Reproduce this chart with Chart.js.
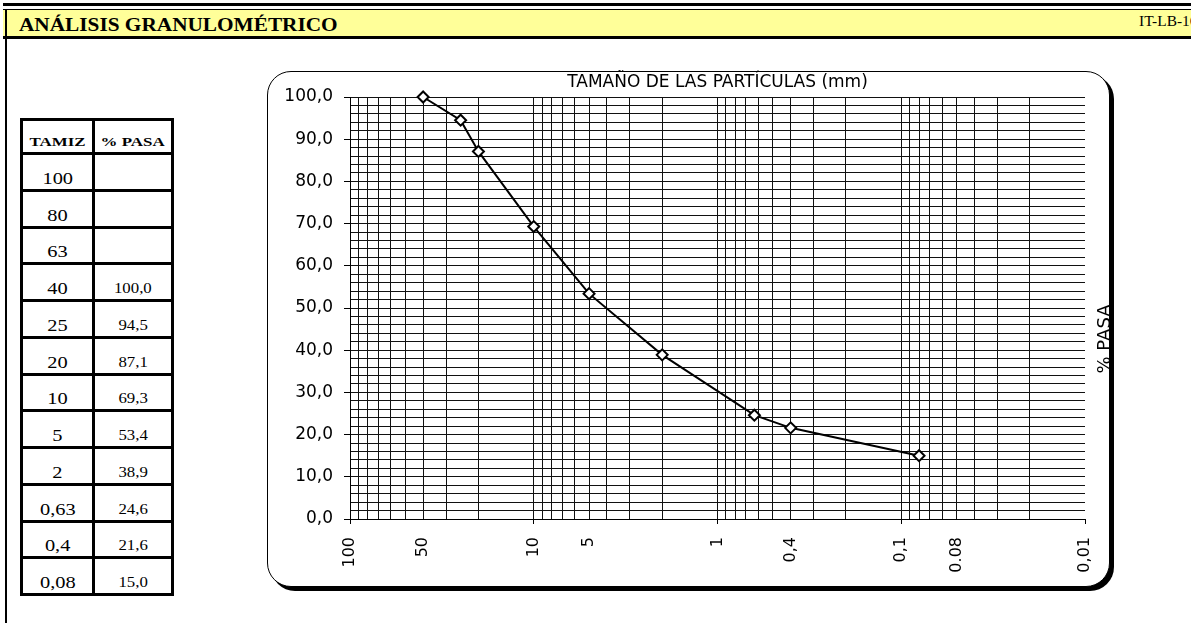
<!DOCTYPE html>
<html>
<head>
<meta charset="utf-8">
<script src="https://cdn.jsdelivr.net/npm/chart.js@4.4.1/dist/chart.umd.min.js"></script>
<style>
  html, body { margin: 0; padding: 0; background: #fff; }
  body { width: 1191px; height: 623px; position: relative; overflow: hidden; font-family: "Liberation Serif", "Times New Roman", serif; color: #000; }
  .abs { position: absolute; }
  .line { position: absolute; background: #000; }
  #band { left: 3px; right: 0; top: 10px; height: 26px; background: #ffff99; }
  #title { left: 19px; top: 15px; font-size: 19px; line-height: 19px; font-weight: bold; transform: scaleX(1.12); transform-origin: left center; white-space: nowrap; }
  #code { left: 1139px; top: 15px; font-size: 14px; line-height: 14px; transform: scaleX(1.1); transform-origin: left center; white-space: nowrap; }
  #tbl { left: 20px; top: 118px; border-collapse: collapse; }
  #tbl td { border: 3px solid #000; text-align: center; vertical-align: bottom; padding: 0 0 3px 0; font-size: 15px; line-height: 15px; }
  #tbl td.t { font-size: 17px; line-height: 17px; padding-bottom: 2px; }
  #tbl tr { height: 36.75px; }
  #tbl tr.head { height: 34px; }
  #tbl tr.head td { font-size: 13px; line-height: 13px; font-weight: bold; padding-bottom: 4px; }
  #tbl td span { display: inline-block; white-space: nowrap; transform: scaleX(1.12); }
  #tbl tr.head td span { transform: scaleX(1.3); }
  #tbl td.t span { transform: scaleX(1.2); }
  #box { left: 267px; top: 71px; width: 843px; height: 516px; box-sizing: border-box; border: 1px solid #000; border-radius: 24px; box-shadow: 4px 4px 0 #000; background: #fff; }
  #wrap { left: 268px; top: 52px; width: 870px; height: 534px; }
</style>
</head>
<body>
<div class="line" style="left:3px; right:0; top:3px; height:3px;"></div>
<div class="line" style="left:3px; right:0; top:9px; height:1.5px;"></div>
<div id="band" class="abs"></div>
<div class="line" style="left:3px; right:0; top:36px; height:3px;"></div>
<div class="line" style="left:5px; width:2.3px; top:9px; bottom:0;"></div>
<div id="title" class="abs">ANÁLISIS GRANULOMÉTRICO</div>
<div id="code" class="abs">IT-LB-16</div>

<table id="tbl" class="abs">
  <colgroup><col style="width:72px"><col style="width:79px"></colgroup>
  <tbody id="rows">
    <tr class="head"><td><span>TAMIZ</span></td><td><span>% PASA</span></td></tr>
  </tbody>
</table>

<div id="box" class="abs"></div>
<div id="wrap" class="abs"><canvas id="granChart"></canvas></div>

<script>
// sieve openings (mm) and percentage passing, as in the table
const tamiz = ['100', '80', '63', '40', '25', '20', '10', '5', '2', '0,63', '0,4', '0,08'];
const sizes = [100, 80, 63, 40, 25, 20, 10, 5, 2, 0.63, 0.4, 0.08];
const pasa = [null, null, null, 100.0, 94.5, 87.1, 69.3, 53.4, 38.9, 24.6, 21.6, 15.0];

// x axis labels as printed on the sheet, and the gridline they sit on
const xTickAt = [100, 40, 10, 5, 1, 0.4, 0.1, 0.05, 0.01];
const xTickText = ['100', '50', '10', '5', '1', '0,4', '0,1', '0.08', '0,01'];

const fmt = v => v.toFixed(1).replace('.', ',');

// table
const tbody = document.getElementById('rows');
tamiz.forEach((t, i) => {
    const tr = document.createElement('tr');
    tr.innerHTML = '<td class="t"><span>' + t + '</span></td><td><span>' +
        (pasa[i] === null ? '' : fmt(pasa[i])) + '</span></td>';
    tbody.appendChild(tr);
});

// log grid: 1..9 per decade
const gridX = [];
for (let e = -2; e <= 1; e++) {
    for (let k = 1; k <= 9; k++) gridX.push(+(k * Math.pow(10, e)).toPrecision(6));
}
gridX.push(100);

const same = (a, b) => Math.abs(a - b) <= Math.abs(b) * 1e-6;
const isDecade = v => same(Math.pow(10, Math.round(Math.log10(v))), v);

const points = [];
sizes.forEach((s, i) => { if (pasa[i] !== null) points.push({x: s, y: pasa[i]}); });

const yTitle = {
    id: 'yTitle',
    afterDraw(chart) {
        const c = chart.ctx, a = chart.chartArea;
        c.save();
        c.translate(a.right + 20, (a.top + a.bottom) / 2 + 31);
        c.rotate(-Math.PI / 2);
        c.font = '18px "DejaVu Sans"';
        c.fillStyle = '#000';
        c.textAlign = 'center';
        c.textBaseline = 'middle';
        c.fillText('% PASA', 0, 0);
        c.restore();
    }
};

Chart.defaults.font.family = '"DejaVu Sans", sans-serif';
Chart.defaults.color = '#000';

const ctx = document.getElementById('granChart').getContext('2d');
new Chart(ctx, {
    type: 'line',
    data: {
        datasets: [{
            data: points,
            borderColor: '#000',
            borderWidth: 2,
            tension: 0,
            fill: false,
            clip: false,
            pointStyle: 'rectRot',
            pointRadius: 5.5,
            pointBackgroundColor: '#fff',
            pointBorderColor: '#000',
            pointBorderWidth: 2
        }]
    },
    options: {
        responsive: true,
        maintainAspectRatio: false,
        animation: false,
        layout: { padding: { left: 0, right: 53, top: 0, bottom: 0 } },
        plugins: {
            legend: { display: false },
            tooltip: { enabled: false },
            title: {
                display: true,
                text: 'TAMAÑO DE LAS PARTÍCULAS (mm)',
                color: '#000',
                fullSize: false,
                font: { size: 17, weight: 'normal' },
                padding: { top: 20, bottom: 4.6 }
            }
        },
        scales: {
            x: {
                type: 'logarithmic',
                reverse: true,
                min: 0.01,
                max: 100,
                afterBuildTicks: s => { s.ticks = gridX.map(v => ({ value: v })); },
                afterFit: s => { s.height = 67; },
                border: { color: '#000', width: 1 },
                grid: {
                    color: c => (c.tick && same(c.tick.value, 0.01)) ? 'rgba(0,0,0,0)' : '#111',
                    lineWidth: 1,
                    tickLength: 5,
                    tickColor: c => (c.tick && isDecade(c.tick.value)) ? '#000' : 'rgba(0,0,0,0)'
                },
                ticks: {
                    autoSkip: false,
                    minRotation: 90,
                    maxRotation: 90,
                    padding: 13,
                    font: { size: 16 },
                    callback: v => {
                        const i = xTickAt.findIndex(t => same(v, t));
                        return i < 0 ? '' : xTickText[i];
                    }
                }
            },
            y: {
                min: 0,
                max: 100,
                afterFit: s => { s.width = 82; },
                border: { color: '#000', width: 1 },
                grid: {
                    color: '#111',
                    lineWidth: 1,
                    tickLength: 6,
                    tickColor: c => (c.tick && c.tick.value % 10 === 0) ? '#000' : 'rgba(0,0,0,0)'
                },
                ticks: {
                    stepSize: 2,
                    maxTicksLimit: 60,
                    autoSkip: false,
                    padding: 11,
                    font: { size: 17 },
                    callback: v => v % 10 === 0 ? fmt(v) : ''
                }
            }
        }
    },
    plugins: [yTitle]
});
</script>
</body>
</html>
